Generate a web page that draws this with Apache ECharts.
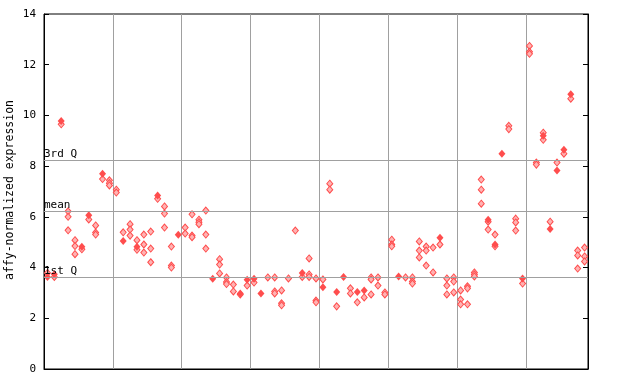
<!DOCTYPE html>
<html>
<head>
<meta charset="utf-8">
<script src="https://cdn.jsdelivr.net/npm/echarts@6/dist/echarts.min.js"></script>
<style>html,body{margin:0;padding:0;background:#fff}#c{width:640px;height:384px}</style>
</head>
<body>
<div id="c"></div>
<script>
// Hollow (single) replicate values per sample, left to right
const hollowValues = [
  [3.79],[3.63],[9.65],[6.22,6.0,5.47],[5.08,4.85,4.53],[4.72],[5.9],[5.66,5.38,5.3],[7.49],[7.44,7.33,7.24],
  [7.07,6.96],[5.39],[5.71,5.5,5.26],[5.08,4.7],[5.3,4.91,4.59],[5.42,4.75,4.21],[6.71],[6.41,6.13,5.58],[4.83,4.08,4.0],[],
  [5.58,5.34],[6.1,5.26,5.2],[5.89,5.79,5.71],[6.25,5.3,4.75],[],[4.33,4.12,3.77],[3.61,3.43,3.35],[3.33,3.06],[2.94],[3.29],
  [3.41],[],[3.61],[3.61,3.06,2.98],[3.1,2.59,2.51],[3.57],[5.46],[3.63],[4.36,3.73,3.63],[3.57,2.7,2.63],
  [3.53],[7.31,7.07],[2.47],[],[3.18,2.98],[2.63],[2.82],[3.61,3.53,2.94],[3.61,3.29],[3.02,2.94],
  [5.1,4.91,4.84],[],[3.61],[3.61,3.45,3.37],[5.03,4.67,4.4],[4.83,4.67,4.08],[4.79,3.81],[4.91],[3.57,3.29,2.94],[3.61,3.45,3.02],
  [3.1,2.74,2.55],[3.26,3.18,2.55],[3.81,3.73,3.65],[7.47,7.07,6.52],[5.81,5.5],[5.3,4.84],[],[9.59,9.46],[5.93,5.78,5.46],[3.37],
  [12.74,12.51,12.43],[8.14,8.06],[9.32,9.04],[5.81],[8.14],[8.49],[10.66],[4.67,4.48,3.96],[4.79,4.44,4.24]
];
// Overlapping (solid-looking) replicate values per sample
const solidValues = [
  [3.63],[3.74],[9.78],[],[],[4.82],[6.06],[],[7.70],[],
  [],[5.05],[],[4.82],[],[],[6.84],[],[],[5.29],
  [],[],[],[],[3.56],[],[],[],[2.98],[3.52],
  [3.56],[2.98],[],[],[],[],[],[3.79],[],[],
  [3.22],[],[3.04],[3.63],[],[3.04],[3.1],[],[],[],
  [],[3.65],[],[],[],[],[],[5.18],[],[],
  [],[],[],[],[5.89],[4.91],[8.49],[],[],[3.57],
  [],[],[9.2],[5.52],[7.83],[8.65],[10.84],[],[]
];
const refValues = [8.23, 6.21, 3.61];
const refLabels = ['3rd Q', 'mean', '1st Q'];
const yTicks = {min: 0, max: 14, interval: 2};
const yTitle = 'affy-normalized expression';

const categories = hollowValues.map((_, i) => String(i + 1));
const toPoints = arr => arr.flatMap((vals, i) => vals.map(v => [i, v]));

const red = '#ff4d4d';
const font = 'DejaVu Sans Mono';
const chart = echarts.init(document.getElementById('c'), null, {renderer: 'canvas'});
chart.setOption({
  animation: false,
  grid: {left: 44, right: 52, top: 14, bottom: 15, containLabel: false, outerBoundsMode: 'none',
    show: true, borderColor: '#000', borderWidth: 1, backgroundColor: 'transparent'},
  graphic: [{
    type: 'text', x: 10, y: 190, rotation: Math.PI / 2,
    style: {text: yTitle, fontFamily: font, fontSize: 11.5, fill: '#000', align: 'center', verticalAlign: 'middle'}
  }],
  xAxis: {
    type: 'category', data: categories, boundaryGap: true,
    axisLine: {show: true, lineStyle: {color: '#000', width: 1}},
    axisTick: {show: false}, axisLabel: {show: false},
    splitLine: {show: true, interval: (i) => i > 0 && i % 10 === 0, lineStyle: {color: '#a0a0a0', width: 1}}
  },
  yAxis: [{
    type: 'value', min: yTicks.min, max: yTicks.max, interval: yTicks.interval,
    axisLine: {show: true, lineStyle: {color: '#000', width: 1}},
    axisTick: {show: true, inside: true, length: 5, lineStyle: {color: '#000'}},
    axisLabel: {fontFamily: font, fontSize: 11, color: '#000', margin: 8},
    splitLine: {show: false}
  }, {
    type: 'value', position: 'right', min: yTicks.min, max: yTicks.max, interval: yTicks.interval,
    axisLine: {show: true, lineStyle: {color: '#000', width: 1}},
    axisTick: {show: true, inside: true, length: 5, lineStyle: {color: '#000'}},
    axisLabel: {show: false}, splitLine: {show: false}
  }],
  series: [{
    type: 'scatter', symbol: 'diamond', symbolSize: [6, 7],
    data: toPoints(hollowValues),
    itemStyle: {color: '#ffb3b3', borderColor: red, borderWidth: 1, opacity: 1},
    markLine: {
      silent: true, symbol: 'none',
      lineStyle: {color: '#a0a0a0', width: 1, type: 'solid'},
      label: {show: true, position: 'insideStartTop', distance: [0, 1], formatter: p => p.name,
        fontFamily: font, fontSize: 11, color: '#000'},
      data: refValues.map((v, i) => ({yAxis: v, name: refLabels[i]}))
    },
    z: 3
  }, {
    type: 'scatter', symbol: 'diamond', symbolSize: [7, 8],
    data: toPoints(solidValues),
    itemStyle: {color: red, opacity: 1},
    z: 4
  }]
});
</script>
</body>
</html>
